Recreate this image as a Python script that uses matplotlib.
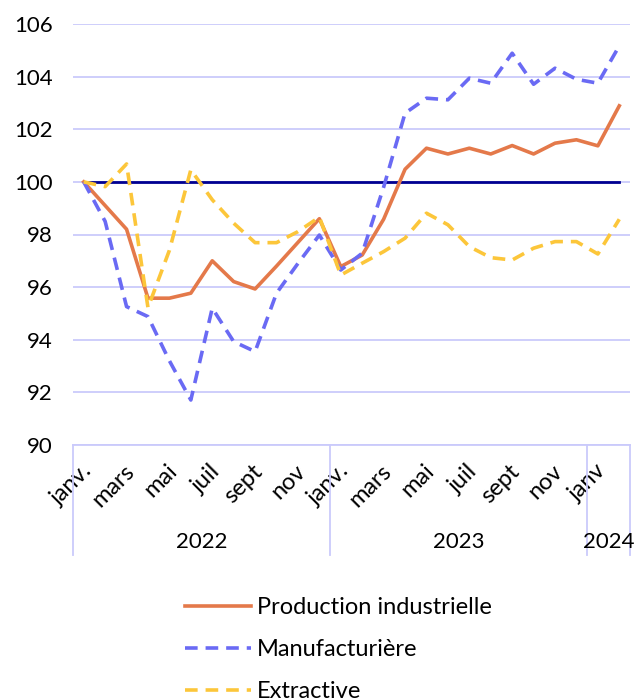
import numpy as np
import matplotlib.pyplot as plt
from matplotlib.transforms import ScaledTranslation

plt.rcParams['font.family'] = ['Lato', 'DejaVu Sans']

# Données (indice base 100 = janvier 2022)
mois = ['janv.', 'févr.', 'mars', 'avr.', 'mai', 'juin', 'juil', 'août', 'sept', 'oct.', 'nov', 'déc.',
        'janv.', 'févr.', 'mars', 'avr.', 'mai', 'juin', 'juil', 'août', 'sept', 'oct.', 'nov', 'déc.',
        'janv', 'févr.']
annees = ['2022', '2023', '2024']
mois_par_annee = [12, 12, 2]

production = [100.0, 99.1, 98.2, 95.58, 95.58, 95.77, 97.0, 96.21, 95.93, 96.8, 97.7, 98.6,
              96.78, 97.22, 98.58, 100.48, 101.28, 101.06, 101.28, 101.06, 101.38, 101.06, 101.47, 101.6,
              101.37, 102.89]
manufacturiere = [100.0, 98.5, 95.26, 94.88, 93.2, 91.71, 95.2, 93.93, 93.55, 95.77, 96.9, 97.98,
                  96.65, 97.29, 99.8, 102.61, 103.18, 103.12, 103.94, 103.75, 104.89, 103.71, 104.32, 103.9,
                  103.75, 105.17]
extractive = [100.0, 99.82, 100.68, 95.22, 97.4, 100.46, 99.32, 98.43, 97.69, 97.69, 98.11, 98.66,
              96.46, 96.91, 97.35, 97.86, 98.81, 98.37, 97.54, 97.12, 97.03, 97.48, 97.73, 97.73,
              97.26, 98.58]
reference = [100.0] * len(mois)

grille = '#cacafb'
x = np.arange(len(mois))

fig = plt.figure(figsize=(6.39, 6.98), dpi=100)
ax = fig.add_axes([73 / 639, 1 - 445 / 698, 557 / 639, 421 / 698])

ax.plot(x, reference, color='#000091', lw=2, zorder=3)
ax.plot(x, production, color='#e4794a', lw=2.6, label='Production industrielle', zorder=4)
ax.plot(x, manufacturiere, color='#6a6af4', lw=2.6, ls=(0, (3.5, 2.2)), label='Manufacturière', zorder=4)
ax.plot(x, extractive, color='#fcc63a', lw=2.6, ls=(0, (3.5, 2.2)), label='Extractive', zorder=4)

ax.set_xlim(-0.5, len(mois) - 0.5)
ax.set_ylim(90, 106)
ax.set_yticks(np.arange(90, 107, 2))
ax.yaxis.grid(True, color=grille, lw=1.3)
ax.set_axisbelow(True)
for s in ['top', 'right', 'left']:
    ax.spines[s].set_visible(False)
ax.spines['bottom'].set_color(grille)
ax.spines['bottom'].set_linewidth(1.3)
ax.tick_params(axis='y', length=0, pad=14.4, labelsize=16)

idx = x[::2]
ax.set_xticks(idx)
ax.set_xticklabels([mois[i] for i in idx], rotation=45, ha='right', va='top',
                   rotation_mode='anchor', fontsize=17)
ax.tick_params(axis='x', length=0, pad=11)
decal = ScaledTranslation(-3 / 100, 0, fig.dpi_scale_trans)
for lab in ax.get_xticklabels():
    lab.set_transform(lab.get_transform() + decal)

# Deuxième niveau : années
trans = ax.get_xaxis_transform()
bornes = np.concatenate([[0], np.cumsum(mois_par_annee)]) - 0.5
for b in bornes:
    ax.plot([b, b], [0, -0.262], transform=trans, color=grille, lw=1.3, clip_on=False)
for i, an in enumerate(annees):
    ax.text((bornes[i] + bornes[i + 1]) / 2, -0.231, an, transform=trans,
            ha='center', va='center', fontsize=16)

ax.legend(loc='upper left', bbox_to_anchor=(185 / 639, 1 - 597 / 698),
          bbox_transform=fig.transFigure, frameon=False, fontsize=17,
          handlelength=2.8, handletextpad=0.25, labelspacing=0.9, borderpad=0,
          borderaxespad=0)

plt.savefig('out.png', dpi=100)
